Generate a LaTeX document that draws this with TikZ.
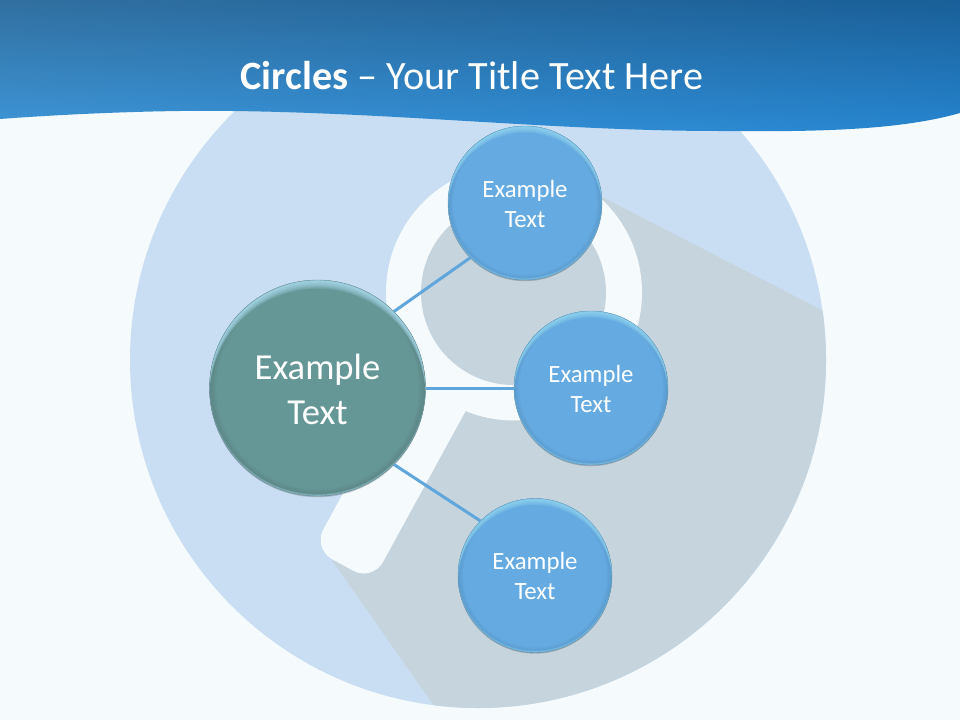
\documentclass[tikz,border=0pt]{standalone}
\usepackage{fontspec}
\setmainfont{Carlito}
\definecolor{pagebg}{HTML}{F5FAFD}
\definecolor{discblue}{HTML}{C9DEF2}
\definecolor{shadowgrey}{HTML}{C6D4DE}
\definecolor{linkblue}{HTML}{5FA6DC}
\definecolor{beadblue}{HTML}{65ABE1}
\definecolor{beadteal}{HTML}{669797}
\pgfdeclarefunctionalshading{bannershade}{\pgfpointorigin}{\pgfpoint{100bp}{100bp}}{}{
  50 div 0.5 sub exch 50 div 0.5 sub exch
  2 copy -0.051 mul exch -0.094 mul add 0.243 add
  3 1 roll
  2 copy -0.151 mul exch -0.065 mul add 0.588 add
  3 1 roll
  -0.220 mul exch -0.031 mul add 0.847 add
}
\tikzset{
  bead/.style n args={5}{circle, inner sep=0pt, minimum size=#1pt, fill=#2, draw=#3, draw opacity=.6, line width=.4pt,
    text=white, align=center,
    preaction={fill=black, opacity=.2, transform canvas={yshift=-1.2pt}},
    path picture={
      \foreach \i in {1,...,10}{
        \draw[#3, opacity=.025, line width=\i*#5*1.1pt] (path picture bounding box.center) circle[radius=#1/2];
      }
      \foreach \i in {1,...,16}{
        \fill[#4, opacity=.1, even odd rule] (path picture bounding box.center) circle[radius=#1/2]
          ([yshift=-\i*#5*.42pt]path picture bounding box.center) circle[radius=#1/2];
      }
      \foreach \i in {1,...,5}{
        \fill[#4, opacity=.14, even odd rule] (path picture bounding box.center) circle[radius=#1/2]
          ([yshift=\i*.4pt]path picture bounding box.center) circle[radius=#1/2];
      }
    }},
  smallbead/.style={bead={154}{beadblue}{black!30!beadblue}{cyan!40!white}{1}, font=\fontsize{24.8}{30}\selectfont},
  bigbead/.style={bead={216}{beadteal}{black!35!beadteal}{cyan!30!white}{1.3}, font=\fontsize{36.6}{45}\selectfont},
  linkline/.style={draw=linkblue, line width=3pt},
  titletext/.style={text=white, font=\fontsize{40.2}{48}\selectfont, inner sep=0pt}
}
\begin{document}
\begin{tikzpicture}[x=1pt,y=-1pt]
\useasboundingbox (0,0) rectangle (960,720);
\fill[pagebg] (0,0) rectangle (960,720);
% large disc
\fill[discblue] (478,360) circle[radius=348];
% long shadow
\begin{scope}
  \clip (478,360) circle[radius=348];
  \fill[shadowgrey] (331,558.7) -- (600,196) -- (950,376) -- (950,800) -- (500,800) -- cycle;
\end{scope}
% magnifier
\fill[pagebg] (514,292.5) circle[radius=128];
\fill[pagebg] (478,388.4) [rounded corners=22pt] -- (372.4,581.3) -- (312.8,548.6) [sharp corners] -- (418.2,355.7) -- cycle;
\fill[shadowgrey] (513.5,292.5) circle[radius=92.5];
% banner
\path[shading=bannershade] (0,0) -- (960,0) -- (960,113)
  .. controls (900,130) and (820,132) .. (720,131)
  .. controls (560,131) and (400,113) .. (232,111)
  .. controls (170,110) and (80,113) .. (0,119) -- cycle;
\node[titletext] (title) at (472,76) {\textbf{Circles} – Your Title Text Here};
% nodes
\node[bigbead] (hub) at (317.5,388) {\rule{0pt}{28.5pt}Example\\Text};
\node[smallbead] (a) at (525,203) {\rule{0pt}{19pt}Example\\Text};
\node[smallbead] (b) at (591,388) {\rule{0pt}{19pt}Example\\Text};
\node[smallbead] (c) at (535,575.5) {\rule{0pt}{19pt}Example\\Text};
% connectors
\draw[linkline] (hub.45) -- (a.225);
\draw[linkline] (hub.east) -- (b.west);
\draw[linkline] (hub.-45) -- (c.135);
\end{tikzpicture}
\end{document}
